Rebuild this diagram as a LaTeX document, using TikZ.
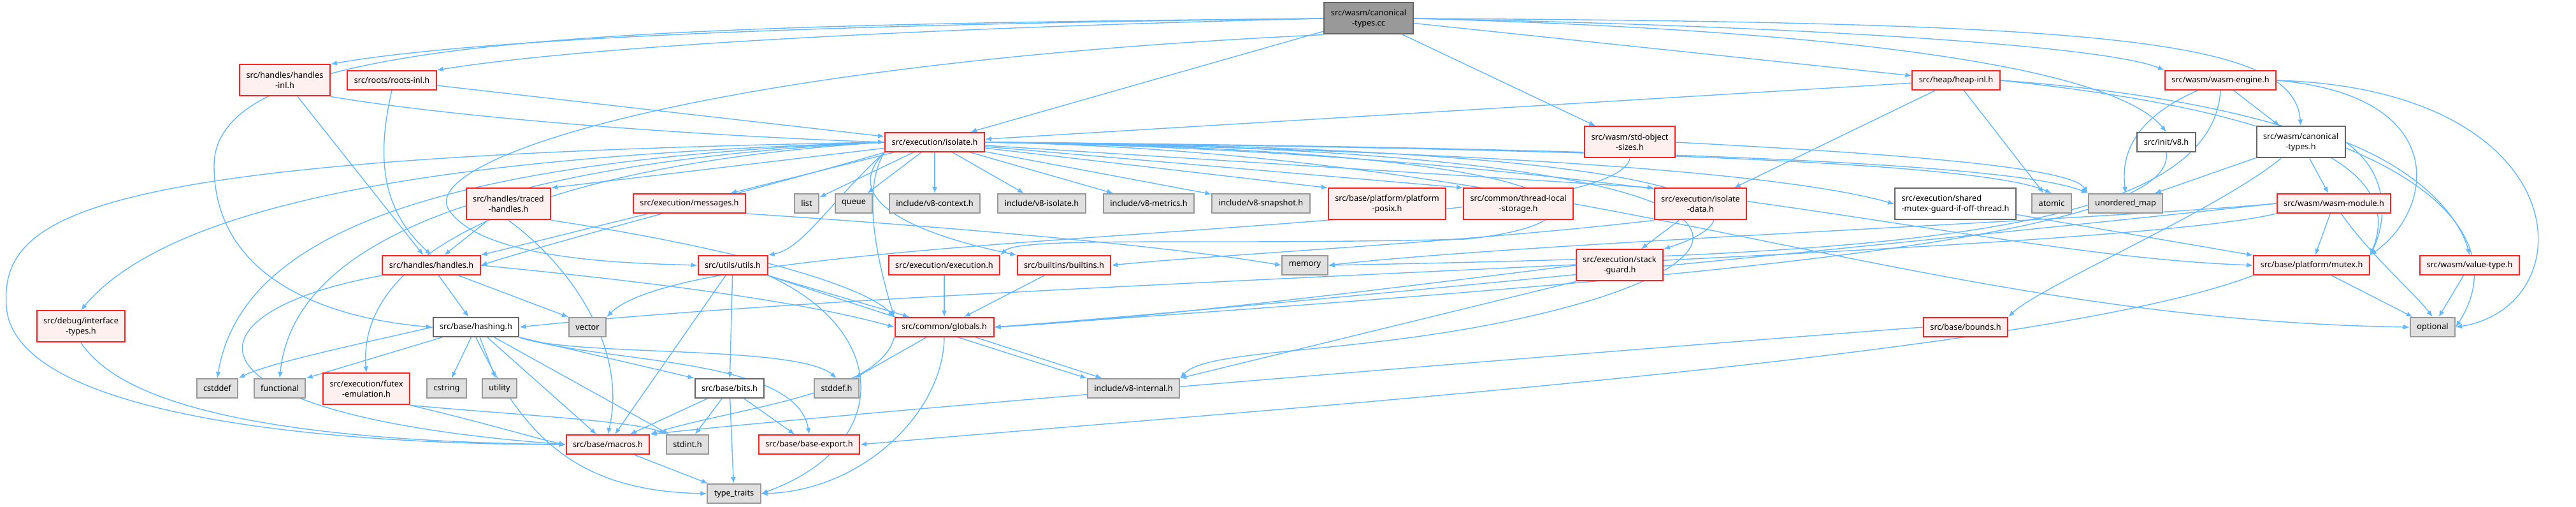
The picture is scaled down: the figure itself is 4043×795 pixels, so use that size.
\documentclass[tikz,border=0pt]{standalone}
\usepackage{fontspec}
\setmainfont{Noto Sans}
\usetikzlibrary{arrows.meta}
\pgfdeclarelayer{background}
\pgfsetlayers{background,main}
\definecolor{edgeblue}{HTML}{63B8FF}
\definecolor{redline}{HTML}{FF2222}
\definecolor{redfill}{HTML}{FFF0F0}
\definecolor{grayline}{HTML}{999999}
\definecolor{grayfill}{HTML}{E0E0E0}
\definecolor{darkline}{HTML}{666666}
\definecolor{rootfill}{HTML}{999999}
\begin{document}
\begin{tikzpicture}[x=0.5pt,y=-0.5pt,
  every node/.style={font=\fontsize{6.35}{8}\selectfont,inner xsep=5.25pt,inner ysep=4.3pt,minimum height=15pt,align=center,line width=1pt},
  tall/.style={minimum height=24.5pt},
  hfile/.style={draw=redline,fill=redfill},
  sysfile/.style={draw=grayline,fill=grayfill},
  plainfile/.style={draw=darkline,fill=white},
  rootfile/.style={draw=darkline,fill=rootfill},
  inc/.style={draw=edgeblue,line width=0.7pt,-{Latex[length=5pt,width=4pt]}}]
  \useasboundingbox (0,0) rectangle (4043,795);
  % top rows
  \node[rootfile,tall] (cc) at (2148,29) {src/wasm/canonical\\-types.cc};
  \node[hfile,tall] (hinl) at (447,126) {src/handles/handles\\-inl.h};
  \node[hfile] (rinl) at (615,126) {src/roots/roots-inl.h};
  \node[hfile] (heapinl) at (3070,126) {src/heap/heap-inl.h};
  \node[hfile] (engine) at (3485,126) {src/wasm/wasm-engine.h};
  \node[hfile] (isolate) at (1467,223) {src/execution/isolate.h};
  \node[hfile,tall] (sizes) at (2558,223) {src/wasm/std-object\\-sizes.h};
  \node[plainfile] (v8h) at (3400,223) {src/init/v8.h};
  \node[plainfile,tall] (ctypes) at (3611,223) {src/wasm/canonical\\-types.h};
  % row of isolate.h includes
  \node[hfile,tall] (traced) at (798,320) {src/handles/traced\\-handles.h};
  \node[hfile] (messages) at (1082,319) {src/execution/messages.h};
  \node[sysfile] (list) at (1266,319) {list};
  \node[sysfile] (queue) at (1340,319) {queue};
  \node[sysfile] (v8ctx) at (1467,319) {include/v8-context.h};
  \node[sysfile] (v8iso) at (1635,319) {include/v8-isolate.h};
  \node[sysfile] (v8met) at (1803,319) {include/v8-metrics.h};
  \node[sysfile] (v8snap) at (1979,319) {include/v8-snapshot.h};
  \node[hfile,tall] (posix) at (2177,320) {src/base/platform/platform\\-posix.h};
  \node[hfile,tall] (tls) at (2383,320) {src/common/thread-local\\-storage.h};
  \node[hfile,tall] (idata) at (2669,320) {src/execution/isolate\\-data.h};
  \node[plainfile,tall,align=left] (shmutex) at (3069,320) {src/execution/shared\\-mutex-guard-if-off-thread.h};
  \node[sysfile] (atomic) at (3220,319) {atomic};
  \node[sysfile] (umap) at (3336,319) {unordered\_map};
  \node[hfile] (wmodule) at (3663,319) {src/wasm/wasm-module.h};
  % middle rows
  \node[hfile] (handles) at (677,416) {src/handles/handles.h};
  \node[hfile] (utils) at (1150,416) {src/utils/utils.h};
  \node[hfile] (execution) at (1482,416) {src/execution/execution.h};
  \node[hfile] (builtins) at (1670,416) {src/builtins/builtins.h};
  \node[sysfile] (memory) at (2048,416) {memory};
  \node[hfile,tall] (sguard) at (2542,416) {src/execution/stack\\-guard.h};
  \node[hfile] (mutex) at (3628,416) {src/base/platform/mutex.h};
  \node[hfile] (vtype) at (3876,416) {src/wasm/value-type.h};
  \node[hfile,tall] (dbgtypes) at (127,512) {src/debug/interface\\-types.h};
  \node[plainfile] (hashing) at (747,513) {src/base/hashing.h};
  \node[sysfile] (vector) at (922,513) {vector};
  \node[hfile] (globals) at (1482,513) {src/common/globals.h};
  \node[hfile] (bounds) at (3085,513) {src/base/bounds.h};
  \node[sysfile] (optional) at (3818,513) {optional};
  % bottom rows
  \node[sysfile] (cstddef) at (341,609) {cstddef};
  \node[sysfile] (functional) at (439,609) {functional};
  \node[hfile,tall] (futex) at (575,610) {src/execution/futex\\-emulation.h};
  \node[sysfile] (cstring) at (701,609) {cstring};
  \node[sysfile] (utility) at (784,609) {utility};
  \node[plainfile] (bits) at (1145,609) {src/base/bits.h};
  \node[sysfile] (stddefh) at (1313,609) {stddef.h};
  \node[sysfile] (v8int) at (1779,609) {include/v8-internal.h};
  \node[hfile] (macros) at (954,697) {src/base/macros.h};
  \node[sysfile] (stdint) at (1079,697) {stdint.h};
  \node[hfile] (bexport) at (1270,697) {src/base/base-export.h};
  \node[sysfile] (traits) at (1152,774) {type\_traits};
  \begin{pgfonlayer}{background}
  % canonical-types.cc
  \draw[inc] (cc.west) .. controls (1300,38) and (750,60) .. (hinl.north east);
  \draw[inc] (cc.west) .. controls (1400,45) and (900,75) .. (rinl.north east);
  \draw[inc] (cc) -- (isolate); \draw[inc] (cc) -- (sizes); \draw[inc] (cc) -- (heapinl);
  \draw[inc] (cc.east) .. controls (2800,40) and (3300,70) .. (engine.north west);
  \draw[inc] (cc.east) .. controls (3000,50) and (3330,120) .. (v8h.north);
  \draw[inc] (cc.east) .. controls (3300,35) and (3600,60) .. (ctypes.north);
  \draw[inc] (cc.west) .. controls (900,40) and (336,60) .. (336,260) .. controls (336,440) and (520,500) .. (hashing.west);
  \draw[inc] (cc.south west) .. controls (1100,100) and (650,250) .. (705,330) .. controls (760,410) and (1000,413) .. (utils.west);
  % handles-inl.h, roots-inl.h
  \draw[inc] (hinl.south east) .. controls (750,190) and (1150,215) .. (isolate.west);
  \draw[inc] (hinl) -- (handles);
  \draw[inc] (rinl) -- (isolate);
  \draw[inc] (rinl.south) .. controls (590,250) and (600,330) .. (handles.north);
  % heap-inl.h
  \draw[inc] (heapinl) -- (isolate); \draw[inc] (heapinl) -- (idata); \draw[inc] (heapinl) -- (atomic);
  \draw[inc] (heapinl.east) .. controls (3650,180) and (3770,280) .. (mutex.north east);
  \draw[inc] (heapinl.east) .. controls (3750,170) and (3960,350) .. (optional.east);
  % wasm-engine.h
  \draw[inc] (engine) .. controls (3340,190) and (3330,250) .. (umap.north);
  \draw[inc] (engine) -- (ctypes);
  \draw[inc] (engine.east) .. controls (3850,150) and (3820,330) .. (mutex.north east);
  \draw[inc] (engine.east) .. controls (4050,140) and (4060,480) .. (optional.east);
  \draw[inc] (engine.south) .. controls (3470,380) and (2900,400) .. (memory.east);
  \draw[inc] (v8h.south) .. controls (3420,380) and (2600,440) .. (globals.east);
  % std-object-sizes.h
  \draw[inc] (sizes.east) .. controls (2950,240) and (3250,260) .. (umap.north west);
  \draw[inc] (sizes.south) .. controls (2530,380) and (1100,350) .. (vector.north east);
  % isolate.h
  \draw[inc] (isolate) -- (traced.north east); \draw[inc] (isolate) -- (messages);
  \draw[inc] (isolate) -- (list); \draw[inc] (isolate) -- (queue); \draw[inc] (isolate) -- (v8ctx);
  \draw[inc] (isolate) -- (v8iso); \draw[inc] (isolate) -- (v8met); \draw[inc] (isolate) -- (v8snap);
  \draw[inc] (isolate) -- (posix.north west); \draw[inc] (isolate) -- (tls.north west); \draw[inc] (isolate) -- (idata.north west);
  \draw[inc] (isolate.east) .. controls (2300,235) and (2800,270) .. (shmutex.west);
  \draw[inc] (isolate.east) .. controls (2400,232) and (3100,250) .. (atomic.north);
  \draw[inc] (isolate.east) .. controls (2400,230) and (3150,250) .. (umap.north west);
  \draw[inc] (isolate.east) .. controls (2600,240) and (3100,400) .. (mutex.west);
  \draw[inc] (isolate.east) .. controls (2500,240) and (3000,500) .. (optional.west);
  \draw[inc] (isolate.east) .. controls (2700,230) and (2800,330) .. (sguard.north east);
  \draw[inc] (isolate.east) .. controls (2650,230) and (2850,360) .. (2500,470) .. controls (2200,560) and (1900,540) .. (v8int.north east);
  \draw[inc] (isolate.east) .. controls (2550,235) and (2550,350) .. (2300,375) .. controls (1900,385) and (1600,370) .. (execution.north east);
  \draw[inc] (isolate.south west) .. controls (1300,330) and (1500,380) .. (builtins.north west);
  \draw[inc] (isolate.south west) .. controls (1300,320) and (1260,390) .. (utils.north east);
  \draw[inc] (isolate.south west) .. controls (1350,300) and (1380,420) .. (globals.north west);
  \draw[inc] (isolate.south west) .. controls (1250,280) and (900,370) .. (handles.east);
  \draw[inc] (isolate.west) .. controls (900,240) and (300,280) .. (dbgtypes.north);
  \draw[inc] (isolate.west) .. controls (150,245) and (0,330) .. (10,480) .. controls (20,650) and (500,697) .. (macros.west);
  \draw[inc] (isolate.west) .. controls (700,250) and (380,360) .. (cstddef.north);
  \draw[inc] (isolate.west) .. controls (760,255) and (460,380) .. (functional.north);
  \draw[inc] (isolate.west) .. controls (820,260) and (560,400) .. (futex.north);
  % traced-handles.h, messages.h
  \draw[inc] (traced) -- (handles); \draw[inc] (messages) -- (handles.north east);
  \draw[inc] (traced.south east) .. controls (1100,380) and (1350,440) .. (globals.north west);
  \draw[inc] (traced.south) .. controls (900,420) and (985,550) .. (macros.north);
  \draw[inc] (messages.south east) .. controls (1400,350) and (1800,380) .. (memory.west);
  % wasm/canonical-types.h, wasm-module.h
  \draw[inc] (ctypes) -- (umap); \draw[inc] (ctypes) -- (wmodule);
  \draw[inc] (ctypes) .. controls (3480,330) and (3200,450) .. (bounds.north east);
  \draw[inc] (ctypes.east) .. controls (3760,280) and (3740,360) .. (mutex.north east);
  \draw[inc] (ctypes.east) .. controls (3800,270) and (3860,340) .. (vtype.north);
  \draw[inc] (wmodule) -- (mutex);
  \draw[inc] (wmodule) .. controls (3720,400) and (3790,460) .. (optional.north);
  \draw[inc] (wmodule.west) .. controls (3300,345) and (2400,380) .. (memory.east);
  \draw[inc] (wmodule.west) .. controls (3200,360) and (2000,480) .. (globals.east);
  \draw[inc] (wmodule.south west) .. controls (3300,400) and (1500,440) .. (hashing.east);
  \draw[inc] (shmutex) -- (mutex); \draw[inc] (vtype) -- (optional); \draw[inc] (mutex) -- (optional);
  \draw[inc] (mutex.south west) .. controls (3200,560) and (2000,640) .. (bexport.east);
  \draw[inc] (bounds.west) .. controls (2400,560) and (1300,650) .. (macros.north east);
  % isolate-data.h, stack-guard.h
  \draw[inc] (idata) -- (sguard);
  \draw[inc] (idata.south west) .. controls (2300,380) and (1900,400) .. (builtins.east);
  \draw[inc] (sguard.west) .. controls (2200,450) and (1800,500) .. (globals.east);
  \draw[inc] (sguard.south west) -- (v8int.north east);
  \draw[inc] (execution) -- (globals); \draw[inc] (builtins) -- (globals);
  % handles.h, utils.h
  \draw[inc] (handles) -- (hashing); \draw[inc] (handles) -- (vector.north west);
  \draw[inc] (handles.south west) .. controls (280,490) and (260,650) .. (macros.west);
  \draw[inc] (handles.east) .. controls (1000,440) and (1250,470) .. (globals.west);
  \draw[inc] (utils) -- (macros); \draw[inc] (utils) -- (bits); \draw[inc] (utils) -- (globals);
  \draw[inc] (utils.south east) .. controls (1350,480) and (1600,560) .. (v8int.north west);
  \draw[inc] (utils.south east) .. controls (1400,520) and (1400,700) .. (traits.east);
  \draw[inc] (dbgtypes.south) .. controls (170,600) and (300,690) .. (macros.west);
  % hashing.h, bits.h, globals.h
  \draw[inc] (hashing.west) .. controls (560,540) and (420,570) .. (cstddef.north east);
  \draw[inc] (hashing) -- (functional.north east); \draw[inc] (hashing) -- (cstring); \draw[inc] (hashing) -- (utility);
  \draw[inc] (hashing) -- (macros); \draw[inc] (hashing) -- (stdint); \draw[inc] (hashing) -- (bits.north west);
  \draw[inc] (hashing.south east) .. controls (900,560) and (1250,540) .. (stddefh.north);
  \draw[inc] (hashing.south east) .. controls (950,570) and (1250,560) .. (bexport.north);
  \draw[inc] (hashing.south) .. controls (820,680) and (900,770) .. (traits.west);
  \draw[inc] (bits) -- (macros); \draw[inc] (bits) -- (stdint); \draw[inc] (bits) -- (bexport); \draw[inc] (bits) -- (traits);
  \draw[inc] (globals) -- (stddefh); \draw[inc] (globals) -- (v8int);
  \draw[inc] (globals.south west) .. controls (1380,620) and (1150,640) .. (macros.north east);
  \draw[inc] (globals.south) .. controls (1480,650) and (1350,770) .. (traits.east);
  \draw[inc] (futex.south east) .. controls (750,660) and (850,690) .. (macros.west);
  \draw[inc] (futex.south east) .. controls (800,650) and (1000,660) .. (stdint.north west);
  \draw[inc] (macros) -- (traits);
  \end{pgfonlayer}
\end{tikzpicture}
\end{document}
